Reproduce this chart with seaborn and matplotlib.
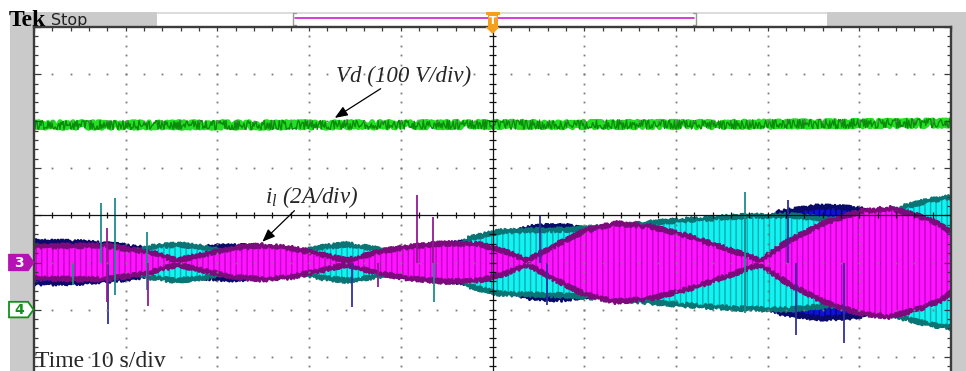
import numpy as np
import pandas as pd
import matplotlib
matplotlib.use("Agg")
import matplotlib.pyplot as plt
import matplotlib.transforms as mtransforms
from matplotlib.patches import Rectangle, Polygon
import seaborn as sns

# ---------------- recorded channel data ----------------
# CH4: DC-link voltage Vd (V) over the 100 s record
vd_time = [0.0, 25.0, 50.0, 75.0, 100.0]
vd_volts = [392.0, 392.0, 393.0, 393.0, 396.0]

# CH3 (magenta) phase current: envelope peak (A)
ia_time = [0.0, 2.8, 7.7, 12.7, 15.6, 18.7, 21.8, 24.9, 27.9, 31.1, 34.1, 37.7,
           41.0, 44.8, 48.6, 51.4, 53.8, 56.8, 60.1, 63.4, 67.2, 71.5, 75.4,
           79.2, 82.4, 86.3, 90.1, 93.4, 96.6, 98.8, 100.0]
ia_peak = [0.68, 0.70, 0.72, 0.43, 0.09, 0.36, 0.62, 0.72, 0.62, 0.36, 0.09, 0.47,
           0.68, 0.81, 0.77, 0.47, 0.09, 0.72, 1.36, 1.66, 1.53, 1.11, 0.60,
           0.09, 0.94, 1.70, 2.17, 2.30, 1.96, 1.62, 1.28]

# CH2 (cyan) phase current: envelope peak (A)
ib_time = [0.0, 3.9, 7.2, 9.9, 12.6, 15.6, 18.6, 21.9, 24.9, 27.9, 31.2, 34.1,
           37.2, 41.0, 44.3, 47.5, 50.8, 53.8, 58.5, 63.9, 70.4, 77.0, 82.4,
           86.8, 91.2, 95.0, 97.7, 100.0]
ib_peak = [0.43, 0.21, 0.13, 0.34, 0.64, 0.77, 0.64, 0.34, 0.13, 0.34, 0.64, 0.77,
           0.60, 0.30, 0.13, 1.02, 1.32, 1.36, 1.40, 1.57, 1.79, 1.96, 2.00,
           1.83, 1.91, 2.38, 2.64, 2.77]

# CH1 (blue) phase current: envelope peak (A)
ic_time = [0.0, 5.0, 9.4, 12.6, 15.6, 18.6, 21.9, 24.9, 29.0, 34.1, 38.8, 44.3,
           48.6, 51.4, 54.1, 57.4, 60.6, 63.9, 70.4, 77.0, 81.3, 85.7, 89.7,
           93.3, 96.6, 100.0]
ic_peak = [0.89, 0.85, 0.72, 0.55, 0.43, 0.64, 0.72, 0.60, 0.34, 0.38, 0.51, 0.72,
           0.94, 1.19, 1.49, 1.57, 1.40, 1.06, 0.77, 1.49, 2.13, 2.38, 2.30,
           1.91, 1.70, 1.28]

# switching glitches: time (s), lower / upper excursion (A), channel
spike_time = [4.3, 7.3, 8.0, 8.1, 8.8, 12.3, 12.4, 34.7, 37.5, 41.8, 43.5, 43.6,
              55.2, 55.9, 77.5, 82.2, 83.1, 88.3]
spike_low = [-0.96, 0.0, -1.68, -2.62, -1.38, -1.17, -1.85, -1.89, -1.04, 0.0, 0.0, -1.68,
             0.0, -1.81, -2.15, 0.0, -3.09, -3.43]
spike_high = [0.0, 2.53, 1.47, 0.0, 2.74, 1.30, 0.0, 0.0, 0.0, 2.87, 1.94, 0.0,
              2.02, 0.0, 3.00, 2.66, 0.0, 0.0]
spike_chan = ["CH2", "CH2", "CH3", "CH1", "CH2", "CH2", "CH3", "CH1", "CH3", "CH3", "CH3", "CH2",
              "CH1", "CH1", "CH2", "CH1", "CH1", "CH1"]

# ---------------- scope settings ----------------
SEC_PER_DIV = 10.0
N_HDIV, N_VDIV = 10, 8
VD_PER_DIV, VD_GND_DIV = 100.0, -2.0
I_PER_DIV, I_GND_DIV = 2.0, -1.0

W, H = 966, 371
sns.set_theme(style="white")
plt.rcParams.update({
    "font.family": ["DejaVu Sans"],
    "mathtext.fontset": "custom",
    "mathtext.it": "Liberation Serif:italic",
    "mathtext.rm": "Liberation Serif",
    "hatch.linewidth": 1.0,
})

fig = plt.figure(figsize=(W / 100, H / 100), dpi=100, facecolor="white")

# graticule area in pixels: left 34, right 951, top 27, 47.1 px per vertical division
gx0, gx1, gy0, pdiv = 34.0, 951.0, 27.0, 47.1
gy1 = gy0 + N_VDIV * pdiv
rect = [gx0 / W, 1 - gy1 / H, (gx1 - gx0) / W, (gy1 - gy0) / H]
ax = fig.add_axes(rect)
ax.set_xlim(0, N_HDIV * SEC_PER_DIV)
ax.set_ylim(-N_VDIV / 2, N_VDIV / 2)

ax_i = ax.twinx()
ax_v = ax.twinx()
ax_i.set_ylim((-N_VDIV / 2 - I_GND_DIV) * I_PER_DIV, (N_VDIV / 2 - I_GND_DIV) * I_PER_DIV)
ax_v.set_ylim((-N_VDIV / 2 - VD_GND_DIV) * VD_PER_DIV, (N_VDIV / 2 - VD_GND_DIV) * VD_PER_DIV)
for tw, z in ((ax_i, 1), (ax_v, 2)):
    tw.axis("off")
    tw.set_zorder(z)
ax.set_zorder(10)
ax.patch.set_visible(False)

# ---------------- current traces ----------------
def envelope(axis, t, peak, face, hatch_col, edge, z):
    t = np.asarray(t, float)
    p = np.asarray(peak, float)
    poly = axis.fill_between(t, -p, p, facecolor=face, edgecolor=hatch_col, hatch="|||",
                             linewidth=0, zorder=z)
    poly.set_sketch_params(2.0, 2.0, 1.5)
    for sgn in (1, -1):
        ln, = axis.plot(t, sgn * p, color=edge, lw=2.0, solid_joinstyle="round", zorder=z + 0.1)
        ln.set_sketch_params(2.2, 1.8, 1.5)

envelope(ax_i, ic_time, ic_peak, "#1212d6", "#00009a", "#0a0a6a", 2)
envelope(ax_i, ib_time, ib_peak, "#14f2f2", "#00b0b4", "#0b7575", 3)
envelope(ax_i, ia_time, ia_peak, "#ff14ff", "#c400c8", "#7c0c7c", 4)

spike_colors = {"CH1": "#30309a", "CH2": "#1f8c8c", "CH3": "#921a92"}
spikes = pd.DataFrame({"t": spike_time, "lo": spike_low, "hi": spike_high, "ch": spike_chan})
for ch, grp in spikes.groupby("ch"):
    ax_i.vlines(grp["t"], grp["lo"], grp["hi"], color=spike_colors[ch], lw=1.3, zorder=6)

# ---------------- DC-link voltage ----------------
vd = pd.DataFrame({"t": vd_time, "v": vd_volts})
n0 = len(ax_v.lines)
sns.lineplot(data=vd, x="t", y="v", ax=ax_v, color="#24e024", lw=4.0, legend=False)
sns.lineplot(data=vd, x="t", y="v", ax=ax_v, color="#0c8c0c", lw=1.0, legend=False)
ax_v.lines[n0].set_sketch_params(3.0, 1.6, 2.0)
ax_v.lines[n0 + 1].set_sketch_params(4.5, 1.4, 2.0)
ax_v.set_xlim(0, N_HDIV * SEC_PER_DIV)
ax_v.axis("off")

# ---------------- graticule ----------------
grid_col = "#7a7a7a"
maj_x = [k * SEC_PER_DIV for k in range(1, N_HDIV) if k != N_HDIV // 2]
maj_y = [k for k in range(-N_VDIV // 2 + 1, N_VDIV // 2) if k != 0]
sub_y = np.arange(-N_VDIV / 2, N_VDIV / 2 + 1e-9, 0.2)[1:-1]
sub_x = np.arange(0, N_HDIV * SEC_PER_DIV + 1e-9, SEC_PER_DIV / 5)[1:-1]
dx = np.repeat(maj_x, len(sub_y)); dy = np.tile(sub_y, len(maj_x))
ax.plot(dx, dy, ls="none", marker="s", ms=1.3, mfc=grid_col, mec="none", zorder=3)
hx = np.tile(sub_x, len(maj_y)); hy = np.repeat(maj_y, len(sub_x))
ax.plot(hx, hy, ls="none", marker="s", ms=1.3, mfc=grid_col, mec="none", zorder=3)

xc = N_HDIV * SEC_PER_DIV / 2
ax.axhline(0, color="#111111", lw=0.9, zorder=4)
ax.axvline(xc, color="#111111", lw=0.9, zorder=4)
ax.vlines(sub_x, -0.065, 0.065, color="#111111", lw=0.9, zorder=4)
ax.hlines(sub_y, xc - 0.33, xc + 0.33, color="#111111", lw=0.9, zorder=4)

ax.set_xticks(np.arange(0, N_HDIV * SEC_PER_DIV + 1e-9, SEC_PER_DIV))
ax.set_xticks(np.arange(0, N_HDIV * SEC_PER_DIV + 1e-9, SEC_PER_DIV / 5), minor=True)
ax.set_yticks(np.arange(-N_VDIV / 2, N_VDIV / 2 + 1e-9, 1))
ax.set_yticks(np.arange(-N_VDIV / 2, N_VDIV / 2 + 1e-9, 0.2), minor=True)
ax.tick_params(which="both", direction="in", top=True, bottom=False, left=True, right=True,
               labelleft=False, labelbottom=False, labeltop=False, labelright=False,
               color="#3a3a3a", width=0.9)
ax.tick_params(axis="x", which="both", length=3.2)
ax.tick_params(axis="y", which="major", length=5)
ax.tick_params(axis="y", which="minor", length=3.2)
for side in ("top", "left", "right"):
    ax.spines[side].set_color("#3c3c3c")
    ax.spines[side].set_linewidth(1.7)
ax.spines["bottom"].set_visible(False)
ax.set_xlabel(""); ax.set_ylabel("")

# ---------------- annotations ----------------
serif = "Liberation Serif"
ax.text(40.3, 2.94, "Vd (100 V/div)", fontsize=16.5, family=serif, style="italic",
        ha="center", va="center", zorder=12)
ax.text(30.3, 0.40, r"$i_l$ (2A/div)", fontsize=16.5, family=serif, style="italic",
        ha="center", va="center", zorder=12)
arrow = dict(arrowstyle="-|>,head_length=0.55,head_width=0.22", color="black", lw=0.9,
             shrinkA=0, shrinkB=0, mutation_scale=14)
ax.annotate("", xy=(32.8, 2.07), xytext=(37.8, 2.69), arrowprops=arrow, zorder=12)
ax.annotate("", xy=(24.9, -0.56), xytext=(28.4, 0.10), arrowprops=arrow, zorder=12)
ax.text(0.15, (gy0 + N_VDIV / 2 * pdiv - (H - 4)) / pdiv, "Time 10 s/div", fontsize=17,
        family=serif, ha="left", va="baseline", zorder=12)

# ---------------- screen furniture ----------------
def fx(px):
    return px / W

def fy(py):
    return 1 - py / H

def frect(x0, y0, x1, y1, color, z=0.5):
    fig.patches.append(Rectangle((fx(x0), fy(y1)), fx(x1) - fx(x0), fy(y0) - fy(y1),
                                 transform=fig.transFigure, facecolor=color,
                                 edgecolor="none", zorder=z))

grey = "#cacaca"
frect(10, 12, 157, 27, grey)
frect(10, 27, 33, H, grey)
frect(827, 12, W, 27, grey)
frect(952, 27, W, H, grey)
fig.add_artist(plt.Line2D([fx(157), fx(827)], [fy(12.5), fy(12.5)], color="#d6d6d6",
                          lw=1.2, transform=fig.transFigure, zorder=1))
# record-position bar
fig.add_artist(plt.Line2D([fx(295), fx(694)], [fy(18), fy(18)], color="#d21cd2",
                          lw=1.2, transform=fig.transFigure, zorder=1))
for xb, d in ((293, 1), (696, -1)):
    fig.add_artist(plt.Line2D([fx(xb + 3 * d), fx(xb), fx(xb), fx(xb + 3 * d)],
                              [fy(13), fy(13), fy(25), fy(25)], color="#9a9a9a",
                              lw=1.0, transform=fig.transFigure, zorder=1))
fig.text(fx(9), fy(26), "Tek", fontsize=17, family=serif, weight="bold",
         color="black", ha="left", va="baseline")
fig.text(fx(51), fy(25.5), "Stop", fontsize=11.5, family="DejaVu Sans",
         color="#222222", ha="left", va="baseline")

# trigger marker at the record centre
bt = mtransforms.blended_transform_factory(ax.transData, fig.transFigure)
orange = "#f4a01e"
px_to_s = SEC_PER_DIV / ((gx1 - gx0) / N_HDIV)
hw_body, hw_cap = 5 * px_to_s, 7 * px_to_s
fig.patches.append(Polygon([(xc - hw_cap, fy(12)), (xc + hw_cap, fy(12)), (xc + hw_cap, fy(15)),
                            (xc + hw_body, fy(15)), (xc + hw_body, fy(27)), (xc - hw_body, fy(27)),
                            (xc - hw_body, fy(15)), (xc - hw_cap, fy(15))],
                           closed=True, transform=bt, facecolor=orange, edgecolor="none", zorder=20))
fig.patches.append(Polygon([(xc - hw_cap, fy(27)), (xc + hw_cap, fy(27)), (xc, fy(34))],
                           closed=True, transform=bt, facecolor=orange, edgecolor="none", zorder=20))
fig.text(xc, fy(21.5), "T", transform=bt, fontsize=8, weight="bold", color="white",
         ha="center", va="center", zorder=21)

# channel ground markers
bc = mtransforms.blended_transform_factory(fig.transFigure, ax.transData)
def gnd_marker(ydiv, label, face, edge, txt):
    h = 0.165
    fig.patches.append(Polygon([(fx(9), ydiv + h), (fx(28), ydiv + h), (fx(33.5), ydiv),
                                (fx(28), ydiv - h), (fx(9), ydiv - h)], closed=True,
                               transform=bc, facecolor=face, edgecolor=edge, lw=1.3, zorder=20))
    fig.text(fx(19), ydiv, label, transform=bc, fontsize=10, weight="bold", color=txt,
             ha="center", va="center", zorder=21)

gnd_marker(I_GND_DIV, "3", "#b412b4", "#b412b4", "white")
gnd_marker(VD_GND_DIV, "4", "white", "#12901a", "#12901a")

fig.savefig("out.png", dpi=100, facecolor="white")
